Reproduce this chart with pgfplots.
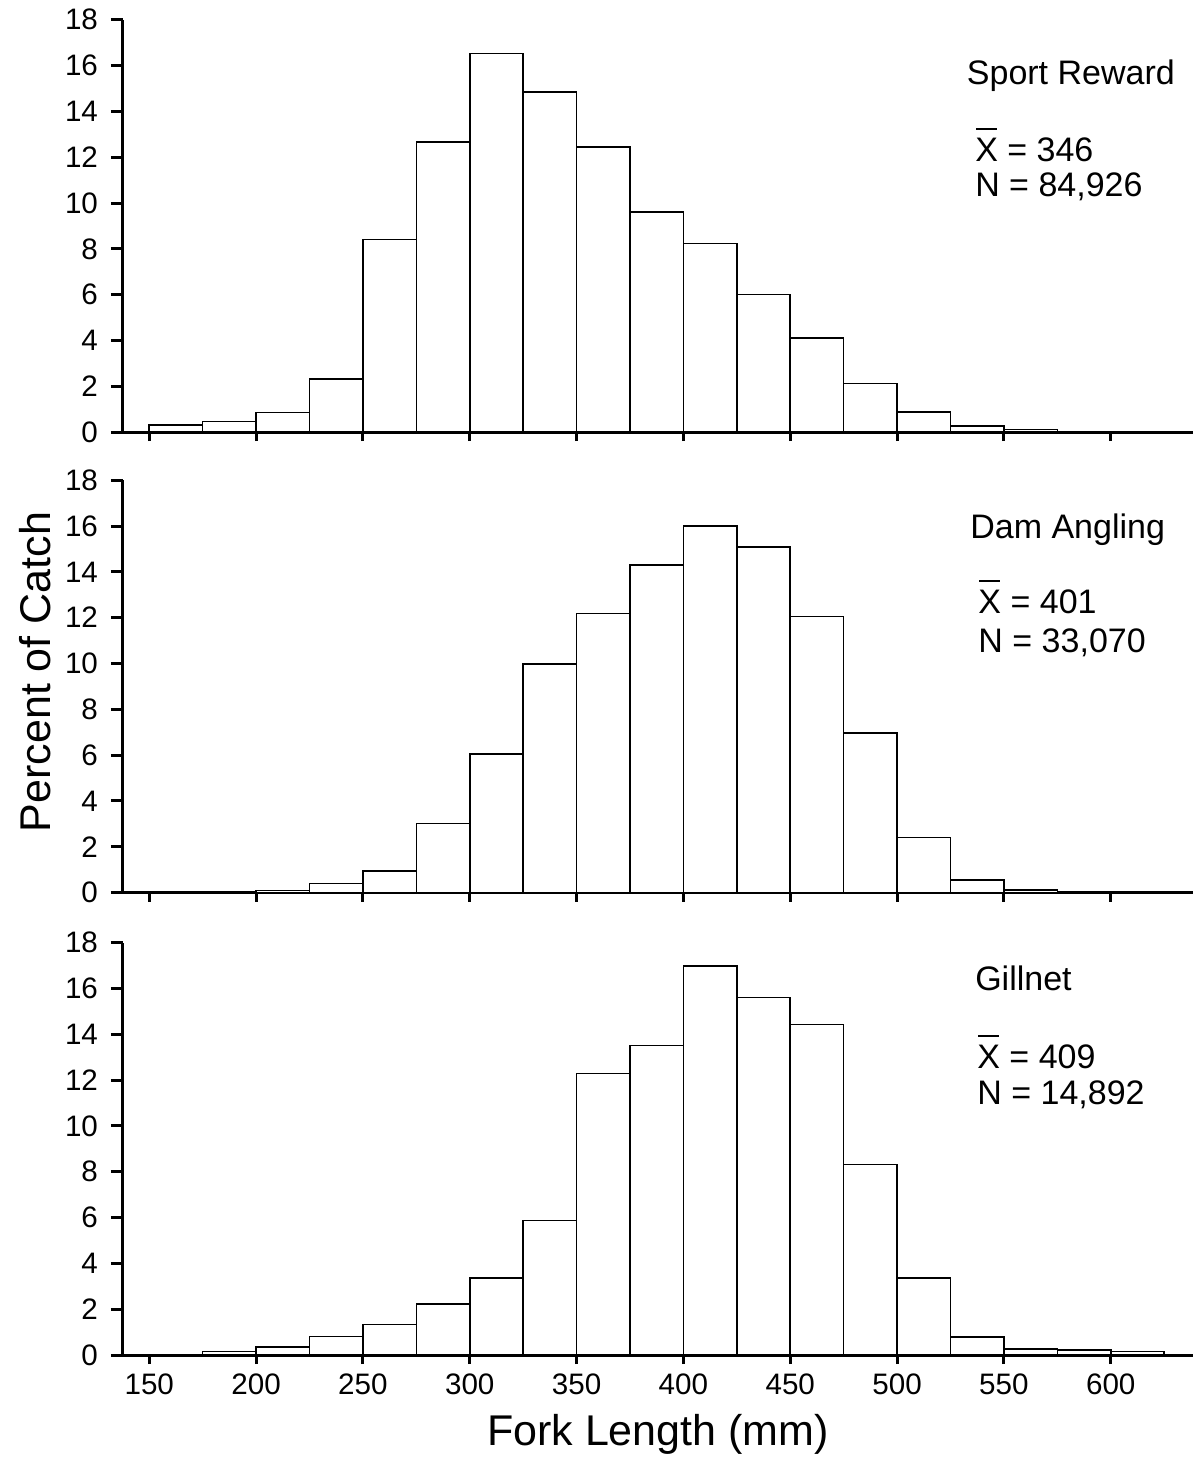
\documentclass[border=0pt]{standalone}
\usepackage{fontspec}
\setmainfont{Liberation Sans}
\usepackage{pgfplots}
\pgfplotsset{compat=1.18}
\newcommand{\xbar}{\rlap{\hspace{0.03em}\rule[0.93em]{0.6em}{0.06em}}X}
\tikzset{ann/.style={anchor=base west, font=\fontsize{17}{20}\selectfont, inner sep=0pt}}
\pgfplotsset{panel/.style={
  scale only axis, width=535pt, height=206.2pt,
  xmin=137.7, xmax=638.5, ymin=0, ymax=18,
  axis x line*=bottom, axis y line*=left,
  xtick={150,200,...,600}, ytick={0,2,...,18},
  tick align=outside,
  axis line style={line width=1.5pt, black},
  tick style={line width=1.5pt, black},
  xtick style={/pgfplots/major tick length=4.5pt},
  major tick length=6pt,
  ticklabel style={font=\fontsize{14.8}{16}\selectfont},
  yticklabel style={xshift=-3pt},
  /pgf/number format/assume math mode=true,
  clip=false,
},
bars/.style={ybar interval, draw=black, fill=white, line width=0.8pt}
}
\begin{document}
\begin{tikzpicture}
\path[use as bounding box] (-61.5pt,-51.5pt) rectangle (535pt,677.5pt);
% top panel
\begin{axis}[panel, at={(0pt,461.4pt)}, xticklabels={}]
\addplot[bars] coordinates {(150,0.32)(175,0.47)(200,0.86)(225,2.33)(250,8.41)(275,12.66)(300,16.53)(325,14.86)(350,12.44)(375,9.60)(400,8.24)(425,6.01)(450,4.12)(475,2.12)(500,0.87)(525,0.26)(550,0.12)(575,0)};
\node[ann] at (axis cs:532.5,15.16) {Sport Reward};
\node[ann] at (axis cs:536.4,11.81) {\xbar{} = 346};
\node[ann] at (axis cs:536.4,10.28) {N = 84,926};
\end{axis}
% middle panel
\begin{axis}[panel, at={(0pt,231.2pt)}, xticklabels={},
  ylabel={Percent of Catch},
  ylabel style={at={(rel axis cs:-0.0822,0.535)}, anchor=center, font=\fontsize{21.5}{24}\selectfont}]
\addplot[bars] coordinates {(200,0.09)(225,0.39)(250,0.93)(275,3.02)(300,6.05)(325,9.99)(350,12.18)(375,14.30)(400,16.0)(425,15.09)(450,12.05)(475,6.96)(500,2.41)(525,0.55)(550,0.12)(575,0)};
\node[ann] at (axis cs:534.1,15.46) {Dam Angling};
\node[ann] at (axis cs:537.9,12.16) {\xbar{} = 401};
\node[ann] at (axis cs:537.9,10.47) {N = 33,070};
\end{axis}
% bottom panel
\begin{axis}[panel, at={(0pt,0pt)},
  xlabel={Fork Length (mm)},
  xlabel style={at={(rel axis cs:0.5,0)}, anchor=base, yshift=-45pt, font=\fontsize{21.5}{24}\selectfont}]
\addplot[bars] coordinates {(175,0.15)(200,0.34)(225,0.80)(250,1.34)(275,2.23)(300,3.37)(325,5.87)(350,12.29)(375,13.51)(400,16.98)(425,15.61)(450,14.43)(475,8.31)(500,3.37)(525,0.79)(550,0.25)(575,0.23)(600,0.16)(625,0)};
\node[ann] at (axis cs:536.4,15.89) {Gillnet};
\node[ann] at (axis cs:537.4,12.51) {\xbar{} = 409};
\node[ann] at (axis cs:537.4,10.93) {N = 14,892};
\end{axis}
\end{tikzpicture}
\end{document}
